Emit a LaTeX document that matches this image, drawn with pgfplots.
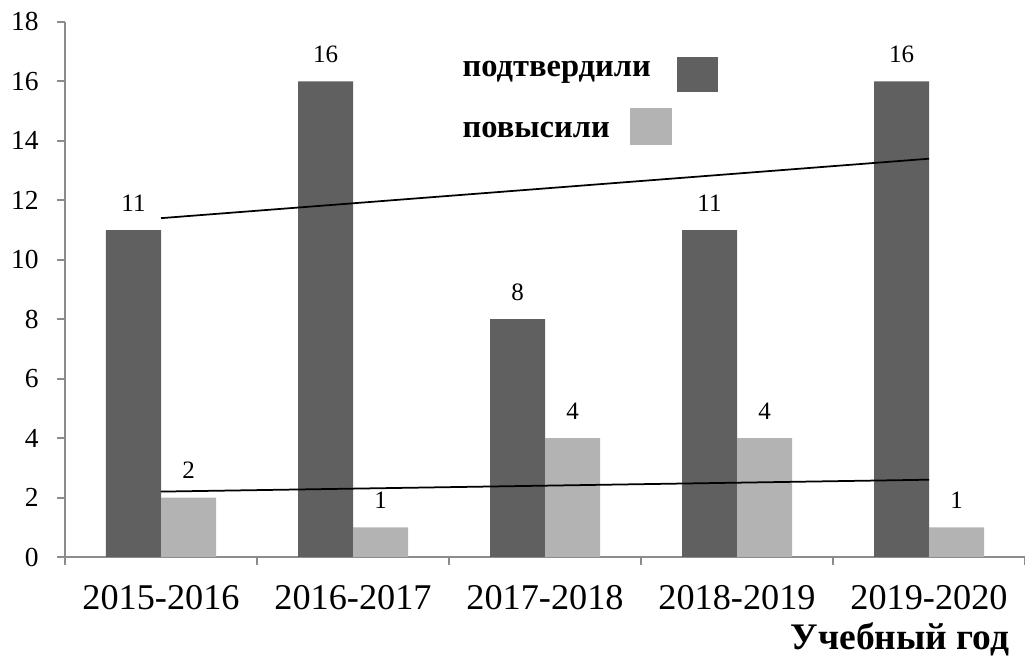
\documentclass[border=0pt]{standalone}
\usepackage{pgfplots}
\pgfplotsset{compat=1.18}
\usepackage{fontspec}
\setmainfont{Liberation Serif}

\definecolor{darkbar}{HTML}{606060}
\definecolor{lightbar}{HTML}{B3B3B3}
\definecolor{axisgray}{HTML}{8C8C8C}

\begin{document}
\begin{tikzpicture}
\begin{axis}[
    name=ax,
    scale only axis,
    width=384pt, height=214pt,
    ybar=0pt,
    bar width=22pt,
    xmin=-0.5, xmax=4.5,
    ymin=0, ymax=18,
    ytick={0,2,...,18},
    xtick={0,1,2,3,4},
    xticklabels={2015-2016,2016-2017,2017-2018,2018-2019,2019-2020},
    minor xtick={-0.5,0.5,1.5,2.5,3.5,4.5},
    axis x line*=bottom,
    axis y line*=left,
    axis line style={axisgray, line width=0.8pt, -},
    every tick/.style={axisgray, line width=0.8pt},
    tick align=outside,
    major tick length=3pt,
    minor tick length=3pt,
    x tick style={draw=none},
    minor x tick style={draw=axisgray},
    /pgf/number format/assume math mode=true,
    yticklabel style={font=\fontsize{11}{13}\selectfont, xshift=-4pt},
    xticklabel style={font=\fontsize{14.5}{16}\selectfont, yshift=-5pt},
    nodes near coords style={font=\fontsize{10}{12}\selectfont, black, yshift=4pt},
    clip=false,
]
\addplot[fill=darkbar, draw=none, nodes near coords]
    coordinates {(0,11)(1,16)(2,8)(3,11)(4,16)};
\addplot[fill=lightbar, draw=none, nodes near coords]
    coordinates {(0,2)(1,1)(2,4)(3,4)(4,1)};
% trend lines
\addplot[sharp plot, black, line width=0.7pt, forget plot] coordinates {(0,11.4)(4,13.4)};
\addplot[sharp plot, black, line width=0.7pt, forget plot] coordinates {(0,2.2)(4,2.6)};

% legend
\fill[darkbar] (axis cs:2.6875,15.65) rectangle (axis cs:2.901,16.82);
\fill[lightbar] (axis cs:2.443,13.86) rectangle (axis cs:2.661,15.11);
\node[anchor=west, inner sep=0pt, font=\bfseries\fontsize{13}{15}\selectfont] at (axis cs:1.568,16.32) {подтвердили};
\node[anchor=west, inner sep=0pt, font=\bfseries\fontsize{13}{15}\selectfont] at (axis cs:1.568,14.37) {повысили};
\end{axis}
\node[anchor=east, inner sep=0pt, font=\bfseries\fontsize{15}{17}\selectfont] at ([xshift=-6pt, yshift=-33pt]ax.south east) {Учебный год};
\pgfresetboundingbox
\path (ax.south west) ++(-26pt,-41.2pt) rectangle ([yshift=8.8pt]ax.north east);
\end{tikzpicture}
\end{document}
